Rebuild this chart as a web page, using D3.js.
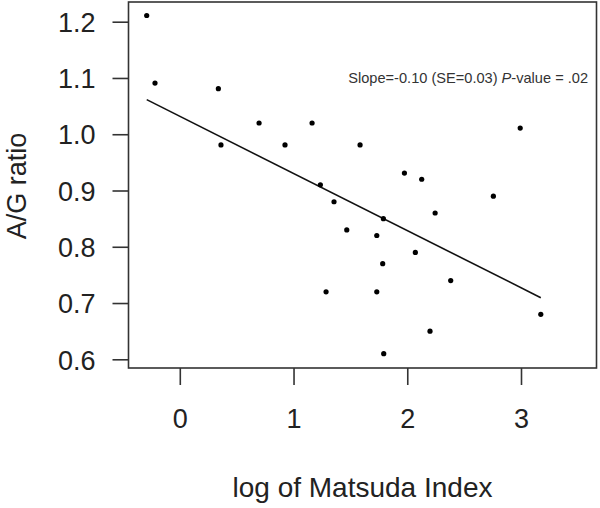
<!DOCTYPE html>
<html>
<head>
<meta charset="utf-8">
<script src="https://cdn.jsdelivr.net/npm/d3@7"></script>
<style>
  html, body { margin: 0; padding: 0; background: #fff; }
  svg { display: block; font-family: "Liberation Sans", Arial, sans-serif; }
</style>
</head>
<body>
<svg id="chart" width="600" height="508"></svg>
<script>
// ---- data ----
const logMatsuda = [-0.291, -0.218, 0.339, 0.362, 0.697, 0.925, 1.163, 1.236, 1.286, 1.356,
                    1.468, 1.585, 1.732, 1.732, 1.784, 1.790, 1.793, 1.975, 2.071, 2.127,
                    2.200, 2.245, 2.382, 2.757, 2.993, 3.174];
const agRatio    = [1.211, 1.091, 1.081, 0.981, 1.020, 0.981, 1.020, 0.910, 0.720, 0.880,
                    0.830, 0.981, 0.820, 0.720, 0.770, 0.850, 0.610, 0.931, 0.790, 0.920,
                    0.650, 0.860, 0.740, 0.890, 1.011, 0.680];
const fitIntercept = 1.032;
const fitSlope = -0.1016;
const xTicks = [0, 1, 2, 3];
const yTicks = [0.6, 0.7, 0.8, 0.9, 1.0, 1.1, 1.2];
const xTitle = "log of Matsuda Index";
const yTitle = "A/G ratio";

// ---- layout ----
const svg = d3.select("#chart");
const box = { left: 128.5, right: 596.5, top: 2, bottom: 368 };

const x = d3.scaleLinear().domain([0, 3]).range([179.8, 521]);
const y = d3.scaleLinear().domain([0.6, 1.2]).range([359.3, 21.7]);

// plot frame
svg.append("rect")
  .attr("x", box.left).attr("y", box.top)
  .attr("width", box.right - box.left).attr("height", box.bottom - box.top)
  .attr("fill", "none").attr("stroke", "#333").attr("stroke-width", 1.6);

// y axis
const yAxis = d3.axisLeft(y).tickValues(yTicks).tickFormat(d3.format(".1f"))
  .tickSize(16).tickPadding(17);
const gy = svg.append("g").attr("transform", `translate(${box.left},0)`).call(yAxis);
gy.select(".domain").remove();
gy.selectAll(".tick line").attr("stroke", "#333").attr("stroke-width", 1.6);
gy.selectAll(".tick text").attr("font-size", 27).attr("fill", "#222")
  .attr("font-family", "Liberation Sans, Arial, sans-serif").attr("dy", "0.36em");

// x axis
const xAxis = d3.axisBottom(x).tickValues(xTicks).tickFormat(d3.format("d"))
  .tickSize(17).tickPadding(24);
const gx = svg.append("g").attr("transform", `translate(0,${box.bottom})`).call(xAxis);
gx.select(".domain").remove();
gx.selectAll(".tick line").attr("stroke", "#333").attr("stroke-width", 1.6);
gx.selectAll(".tick text").attr("font-size", 27).attr("fill", "#222")
  .attr("font-family", "Liberation Sans, Arial, sans-serif");

// axis titles
svg.append("text")
  .attr("x", 362.5).attr("y", 497)
  .attr("text-anchor", "middle").attr("font-size", 28).attr("fill", "#222")
  .text(xTitle);
svg.append("text")
  .attr("transform", `translate(25.5,186) rotate(-90)`)
  .attr("text-anchor", "middle").attr("font-size", 27).attr("fill", "#222")
  .text(yTitle);

// regression line
const xExt = d3.extent(logMatsuda);
svg.append("line")
  .attr("x1", x(xExt[0])).attr("y1", y(fitIntercept + fitSlope * xExt[0]))
  .attr("x2", x(xExt[1])).attr("y2", y(fitIntercept + fitSlope * xExt[1]))
  .attr("stroke", "#111").attr("stroke-width", 1.6);

// points
const pts = logMatsuda.map((v, i) => ({ x: v, y: agRatio[i] }));
svg.append("g").selectAll("circle").data(pts).join("circle")
  .attr("cx", d => x(d.x)).attr("cy", d => y(d.y))
  .attr("r", 2.6).attr("fill", "#000");

// annotation
const ann = svg.append("text")
  .attr("x", 588).attr("y", 83)
  .attr("text-anchor", "end").attr("font-size", 14.6).attr("fill", "#333");
ann.append("tspan").text("Slope=-0.10 (SE=0.03) ");
ann.append("tspan").attr("font-style", "italic").text("P");
ann.append("tspan").text("-value = .02");
</script>
</body>
</html>
